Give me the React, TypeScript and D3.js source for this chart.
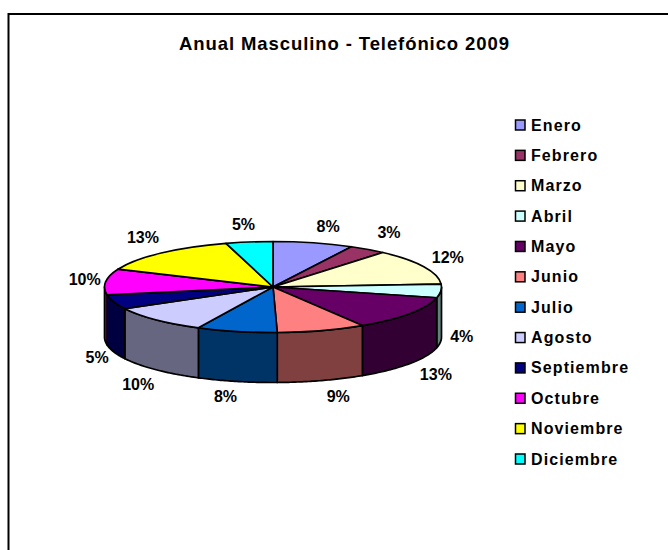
import React from "react";
import * as d3 from "d3";

const months = ["Enero","Febrero","Marzo","Abril","Mayo","Junio","Julio","Agosto","Septiembre","Octubre","Noviembre","Diciembre"];
// Visible share of the drawn ellipse
const shares = [7.7,3.6,12.7,4.8,12.3,8.5,7.7,9.8,5.1,9.2,14.1,4.5];
const percentLabels = ["8%","3%","12%","4%","13%","9%","8%","10%","5%","10%","13%","5%"];
const colors = ["#9999FF","#993366","#FFFFCC","#CCFFFF","#660066","#FF8080","#0066CC","#CCCCFF","#000080","#FF00FF","#FFFF00","#00FFFF"];
const labelNudge: [number, number][] = [[10,3],[10,0],[6,0],[1,-6],[10,-1],[11,-3],[-7,-4],[-4,0],[2,-1],[-1,0],[-5,-1],[-3,2.5]];

const W = 668, H = 550;
const cx = 273, cy = 287, rx = 168.5, ry = 45.5, depth = 50;
const font = "'Liberation Sans', Arial, sans-serif";

const half = (c: string) => { const r = d3.rgb(c); return d3.rgb(r.r / 2, r.g / 2, r.b / 2).formatHex(); };
const pt = (t: number, ex = 0, ey = 0): [number, number] => [cx + (rx + ex) * Math.sin(t), cy - (ry + ey) * Math.cos(t)];

export default function App() {
  const arcs = d3.pie<number>().sort(null)(shares);
  const topArc = d3.arc<d3.PieArcDatum<number>>().innerRadius(0).outerRadius(rx);
  const wall = d3.area<number>()
    .x(t => pt(t)[0])
    .y0(t => pt(t)[1])
    .y1(t => pt(t)[1] + depth);
  const legendY = d3.scalePoint<string>().domain(months).range([125, 459]);

  return (
    <svg width={W} height={H} style={{ position: "absolute", left: 0, top: 0, background: "#fff" }} fontFamily={font}>
      <path d={`M8.5 ${H}V14H${W}`} fill="none" stroke="#000" strokeWidth={2} />
      <text x={344} y={50} textAnchor="middle" fontSize={18.5} fontWeight="bold" textLength={330} lengthAdjust="spacing">Anual Masculino - Telefónico 2009</text>

      <g>
        {arcs.map((a, i) => {
          const t0 = Math.max(a.startAngle, Math.PI / 2);
          const t1 = Math.min(a.endAngle, (3 * Math.PI) / 2);
          if (t1 <= t0) return null;
          const ts = d3.range(0, 41).map(k => t0 + ((t1 - t0) * k) / 40);
          return <path key={i} d={wall(ts) ?? ""} fill={half(colors[i])} stroke="#000" strokeWidth={1.7} strokeLinejoin="round" />;
        })}
      </g>
      <g transform={`translate(${cx},${cy}) scale(1,${ry / rx})`}>
        {arcs.map((a, i) => (
          <path key={i} d={topArc(a) ?? ""} fill={colors[i]} stroke="#000" strokeWidth={1.7} strokeLinejoin="round" style={{ vectorEffect: "non-scaling-stroke" }} />
        ))}
      </g>

      <g fontSize={16} fontWeight="bold" textAnchor="middle" dominantBaseline="central">
        {arcs.map((a, i) => {
          const t = (a.startAngle + a.endAngle) / 2;
          const [x, y] = pt(t, 20, 20);
          return <text key={i} x={x + labelNudge[i][0]} y={y + labelNudge[i][1] + (Math.cos(t) < 0 ? depth : 0)}>{percentLabels[i]}</text>;
        })}
      </g>

      <g>
        {months.map((m, i) => (
          <g key={m} transform={`translate(0,${legendY(m)})`}>
            <rect x={515.5} y={-5} width={9.5} height={10} fill={colors[i]} stroke="#000" strokeWidth={1.5} />
            <text x={531} y={0} fontSize={16} fontWeight="bold" letterSpacing={1.1} dominantBaseline="central">{m}</text>
          </g>
        ))}
      </g>
    </svg>
  );
}
